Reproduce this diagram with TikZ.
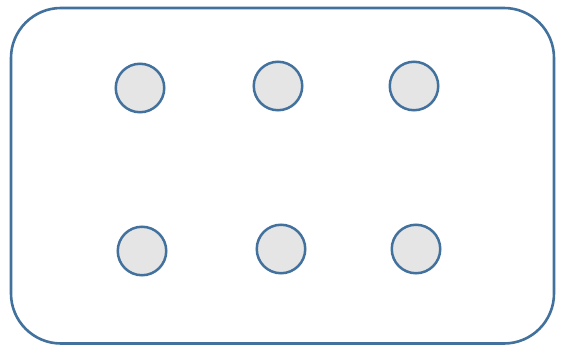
\documentclass[tikz,border=0pt]{standalone}
\definecolor{edge}{HTML}{41719C}
\definecolor{fillg}{HTML}{E5E5E5}
\begin{document}
\begin{tikzpicture}[x=1pt,y=1pt,
  dot/.style={circle,draw=edge,fill=fillg,line width=2.5pt,minimum size=48.5pt,inner sep=0pt}]
\useasboundingbox (0,0) rectangle (564,345);
\draw[edge,line width=2.6pt,rounded corners=50pt] (11,1.5) rectangle (554,337);
\node[dot] (a) at (140,257) {};
\node[dot] (b) at (278,259) {};
\node[dot] (c) at (414,259) {};
\node[dot] (d) at (142,94) {};
\node[dot] (e) at (281,96) {};
\node[dot] (f) at (416,96) {};
\end{tikzpicture}
\end{document}
